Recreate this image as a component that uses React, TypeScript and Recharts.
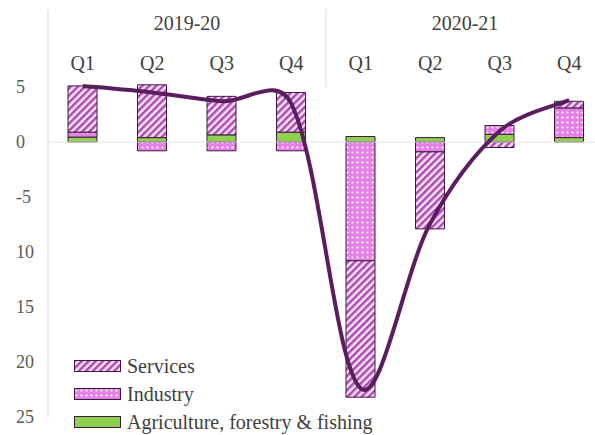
import React from 'react'
import { ComposedChart, Bar, Line, XAxis, YAxis, ReferenceLine, Legend } from 'recharts'

const keys = ['19Q1', '19Q2', '19Q3', '19Q4', '20Q1', '20Q2', '20Q3', '20Q4']
const quarters = ['Q1', 'Q2', 'Q3', 'Q4', 'Q1', 'Q2', 'Q3', 'Q4']
const years = ['2019-20', '2019-20', '2019-20', '2019-20', '2020-21', '2020-21', '2020-21', '2020-21']
const agriculture = [0.45, 0.4, 0.65, 0.9, 0.5, 0.4, 0.7, 0.4]
const industry = [0.45, -0.8, -0.8, -0.8, -10.8, -0.9, 0.8, 2.7]
const services = [4.2, 4.8, 3.5, 3.6, -12.4, -7.0, -0.5, 0.6]
const gva = [5.1, 4.5, 3.7, 3.5, -22.4, -7.4, 1.0, 3.8]
const yTicks = [5, 0, -5, -10, -15, -20, -25]

const data = keys.map((k, i) => ({
  key: k,
  quarter: quarters[i],
  year: years[i],
  agriculture: agriculture[i],
  industry: industry[i],
  services: services[i],
  gva: gva[i],
}))

const FONT = '"Liberation Serif", "Times New Roman", serif'
const TEXT = '#404040'
const EDGE = '#3f1a40'

// Excel-like smoothed line: Catmull-Rom, handles shortened next to short segments
function smoothCurve(context: any) {
  let pts: number[][] = []
  const dist = (a: number[], b: number[]) => Math.hypot(b[0] - a[0], b[1] - a[1])
  return {
    areaStart() {},
    areaEnd() {},
    lineStart() { pts = [] },
    point(x: number, y: number) { pts.push([+x, +y]) },
    lineEnd() {
      if (!pts.length) return
      const n = pts.length
      // handle factors for each point: [left, right]
      const k = pts.map((p, i) => {
        if (i === 0 || i === n - 1) return [1, 1]
        const dl = dist(pts[i - 1], p)
        const dr = dist(p, pts[i + 1])
        return [Math.sqrt((2 * dl) / (dl + dr)), Math.sqrt((2 * dr) / (dl + dr))]
      })
      context.moveTo(pts[0][0], pts[0][1])
      for (let i = 0; i < n - 1; i++) {
        const p0 = pts[i - 1] || pts[i]
        const p1 = pts[i]
        const p2 = pts[i + 1]
        const p3 = pts[i + 2] || p2
        const a = k[i][1] / 6
        const b = k[i + 1][0] / 6
        context.bezierCurveTo(
          p1[0] + (p2[0] - p0[0]) * a, p1[1] + (p2[1] - p0[1]) * a,
          p2[0] - (p3[0] - p1[0]) * b, p2[1] - (p3[1] - p1[1]) * b,
          p2[0], p2[1],
        )
      }
    },
  }
}

function QuarterTick({ x, y, index }: any) {
  return (
    <text x={x} y={y + 60} textAnchor="middle" fontSize={20} fill={TEXT} fontFamily={FONT}>
      {quarters[index]}
    </text>
  )
}

function YearTick({ x, y, payload, index }: any) {
  return (
    <g>
      {index === 1 && (
        <line x1={x - payload.offset} x2={x - payload.offset} y1={y} y2={y + 78} stroke="#d9d9d9" />
      )}
      <text x={x} y={y + 21} textAnchor="middle" fontSize={20} fill={TEXT} fontFamily={FONT}>
        {payload.value}
      </text>
    </g>
  )
}

function ValueTick({ x, y, payload }: any) {
  const v = payload.value
  return (
    <text x={x - 18} y={y + 6} textAnchor="start" fontSize={18} fill="#595959" fontFamily={FONT}>
      {v === -5 ? '-5' : String(Math.abs(v))}
    </text>
  )
}

function LegendContent({ payload }: any) {
  const items = (payload || []).filter((p: any) => p.type !== 'none').slice().reverse()
  return (
    <div style={{ fontFamily: FONT }}>
      {items.map((it: any) => (
        <div key={it.value} style={{ display: 'flex', alignItems: 'center', height: 28 }}>
          <svg width={48} height={13}>
            <rect x={0.5} y={0.5} width={46} height={11} fill={it.color} stroke={EDGE} />
          </svg>
          <span style={{ marginLeft: 5, fontSize: 20, lineHeight: '22px', color: TEXT, whiteSpace: 'nowrap' }}>{it.value}</span>
        </div>
      ))}
    </div>
  )
}

export default function App() {
  return (
    <div style={{ position: 'fixed', left: 0, top: 0, width: 595, height: 435, overflow: 'hidden', background: '#fff', fontFamily: FONT }}>
      <ComposedChart width={604} height={435} data={data} stackOffset="sign"
        margin={{ top: 8, right: 0, bottom: 18, left: 0 }}>
        <defs>
          <pattern id="pat-services" width="5" height="5" patternUnits="userSpaceOnUse" patternTransform="rotate(45)">
            <rect width="5" height="5" fill="#f8e6f8" />
            <rect width="2.5" height="5" fill="#b048b4" />
          </pattern>
          <pattern id="pat-industry" width="5" height="5" patternUnits="userSpaceOnUse">
            <rect width="5" height="5" fill="#e67fe6" />
            <circle cx="2.5" cy="2.5" r="1.1" fill="#fff" />
          </pattern>
        </defs>
        <XAxis xAxisId="q" dataKey="key" orientation="top" height={1}
          axisLine={false} tickLine={false} tickSize={0} tickMargin={0}
          interval={0} tick={<QuarterTick />} />
        <XAxis xAxisId="year" dataKey="year" orientation="top" height={1}
          allowDuplicatedCategory={false}
          axisLine={false} tickLine={false} tickSize={0} tickMargin={0}
          interval={0} tick={<YearTick />} />
        <YAxis domain={[-25, 12]} ticks={yTicks} width={48} interval={0}
          axisLine={{ stroke: '#d9d9d9' }} tickLine={false} tickMargin={8}
          tick={<ValueTick />} />
        <ReferenceLine xAxisId="q" y={0} stroke="#e6e6e6" />
        <Bar xAxisId="q" dataKey="agriculture" name="Agriculture, forestry & fishing" stackId="a"
          fill="#8fd14f" stroke={EDGE} strokeWidth={1} barSize={29} isAnimationActive={false} />
        <Bar xAxisId="q" dataKey="industry" name="Industry" stackId="a"
          fill="url(#pat-industry)" stroke={EDGE} strokeWidth={1} barSize={29} isAnimationActive={false} />
        <Bar xAxisId="q" dataKey="services" name="Services" stackId="a"
          fill="url(#pat-services)" stroke={EDGE} strokeWidth={1} barSize={29} isAnimationActive={false} />
        <Line xAxisId="q" dataKey="gva" type={smoothCurve as any} stroke="#5a1e5e" strokeWidth={4}
          dot={false} legendType="none" isAnimationActive={false} />
        <Legend layout="vertical" align="center" verticalAlign="middle" content={<LegendContent />}
          wrapperStyle={{ left: 74, top: 352, width: 'auto' }} />
      </ComposedChart>
    </div>
  )
}
